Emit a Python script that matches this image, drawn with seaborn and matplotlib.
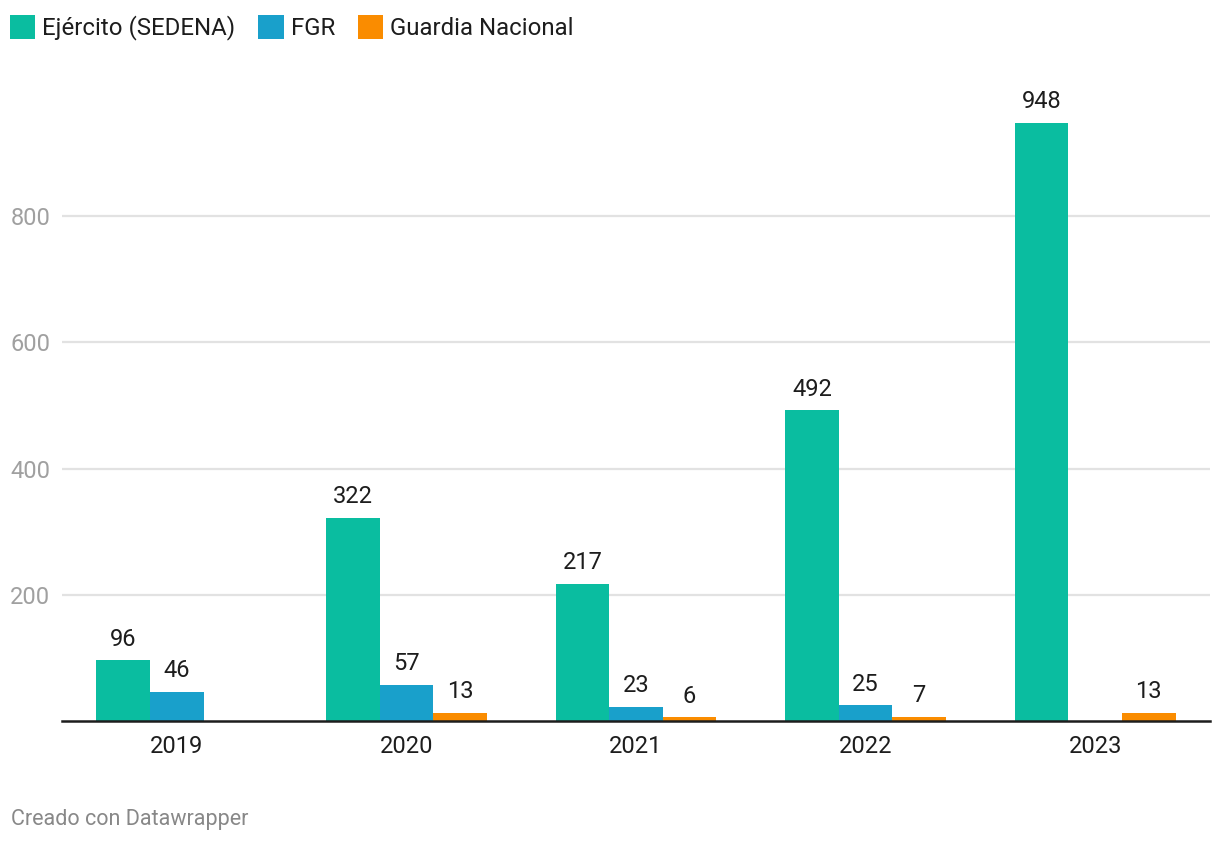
import numpy as np
import pandas as pd
import matplotlib
matplotlib.use('Agg')
import matplotlib.pyplot as plt
import seaborn as sns
from matplotlib.patches import Patch

# datos
anios = ['2019', '2020', '2021', '2022', '2023']
series = ['Ejército (SEDENA)', 'FGR', 'Guardia Nacional']
sedena = [96, 322, 217, 492, 948]
fgr = [46, 57, 23, 25, np.nan]
guardia = [np.nan, 13, 6, 7, 13]
colores = ['#0abda0', '#19a0cb', '#fa8c00']
yticks = [200, 400, 600, 800]

df = pd.DataFrame({
    'anio': anios * 3,
    'serie': [s for s in series for _ in anios],
    'valor': sedena + fgr + guardia,
})

sns.set_style('white')
plt.rcParams['font.family'] = ['Roboto', 'DejaVu Sans']

fig = plt.figure(figsize=(12.2, 8.44), dpi=100)
ax = fig.add_axes([0.0508, 0.1457, 0.9410, 0.748])

sns.barplot(data=df, x='anio', y='valor', hue='serie', palette=colores,
            width=0.7, saturation=1, linewidth=0, ax=ax, legend=False)

# etiquetas encima de las barras
for cont in ax.containers:
    labels = ['' if np.isnan(v) else f'{v:.0f}' for v in cont.datavalues]
    ax.bar_label(cont, labels=labels, padding=7, fontsize=17, color='#1d1d1d')

ax.set_xlim(-0.5, 4.5)
ax.set_ylim(0, 1000)
ax.set_yticks(yticks)
ax.set_yticklabels([str(t) for t in yticks])
ax.yaxis.grid(True, color='#e2e2e2', linewidth=1.6)
ax.set_axisbelow(True)
ax.set_xlabel('')
ax.set_ylabel('')
for s in ['top', 'right', 'left']:
    ax.spines[s].set_visible(False)
ax.spines['bottom'].set_color('#1d1d1d')
ax.spines['bottom'].set_linewidth(1.8)
ax.tick_params(axis='x', length=0, labelsize=17, labelcolor='#1d1d1d', pad=10)
ax.tick_params(axis='y', length=0, labelsize=17, labelcolor='#a0a0a0', pad=8.5)

# leyenda
handles = [Patch(facecolor=c, edgecolor='none') for c in colores]
fig.legend(handles, series, loc='upper left', bbox_to_anchor=(-0.0095, 1.008), ncol=3,
           frameon=False, fontsize=17.3, handlelength=1.05, handleheight=1.15,
           handletextpad=0.3, columnspacing=0.95, labelcolor='#1d1d1d')

fig.text(0.009, 0.022, 'Creado con Datawrapper', fontsize=15.5, color='#888888')

fig.savefig('out.png', dpi=100)
